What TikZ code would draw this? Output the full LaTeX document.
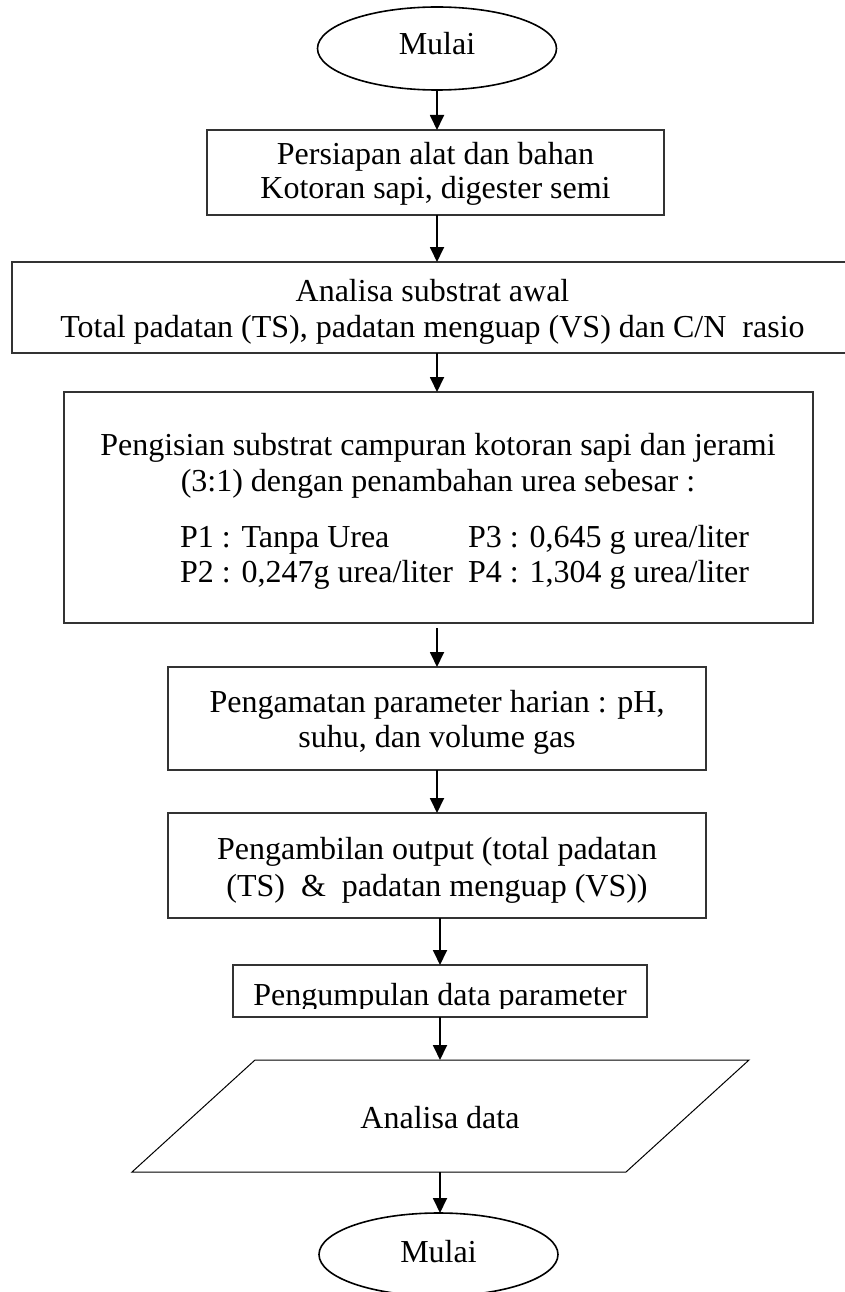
\documentclass[tikz,border=0pt]{standalone}
\usepackage{fontspec}
\setmainfont{Liberation Serif}
\usetikzlibrary{arrows.meta,shapes.geometric}
\begin{document}
\begin{tikzpicture}[x=1pt,y=1pt,
  every node/.style={font=\fontsize{32}{37}\selectfont},
  boxst/.style={draw=black!80, line width=1.1pt, inner sep=0pt, outer sep=0pt},
  term/.style={ellipse, draw, line width=1.6pt, inner sep=0pt, outer sep=0pt, minimum width=239pt, minimum height=83pt},
  txt/.style={anchor=base, inner sep=0pt},
  txtw/.style={anchor=base west, inner sep=0pt},
  arr/.style={-{Triangle[length=15pt,width=14pt]}, line width=1.8pt},
  para/.style={draw, line width=1pt, line join=miter}]
\useasboundingbox (0,0) rectangle (844,-1292);
% start
\node[term] (e1) at (437,-48.5) {};
\node[txt] (e1t) at (437,-55) {Mulai};
% box 1
\node[boxst, minimum width=457pt, minimum height=85pt] (b1) at (435.5,-172.5) {};
\node[txt] (b1a) at (435.5,-165) {Persiapan alat dan bahan};
\node[txt] (b1b) at (435.5,-199) {Kotoran sapi, digester semi};
% box 2
\node[boxst, minimum width=842pt, minimum height=91pt] (b2) at (433,-307.5) {};
\node[txt] (b2a) at (432.5,-301.5) {Analisa substrat awal};
\node[txt] (b2b) at (432.5,-337) {Total padatan (TS), padatan menguap (VS) dan C/N\ \ rasio};
% box 3
\node[boxst, minimum width=749pt, minimum height=231pt] (b3) at (438.5,-507.5) {};
\node[txt] (b3a) at (438,-455) {Pengisian substrat campuran kotoran sapi dan jerami};
\node[txt] (b3b) at (438,-491) {(3:1) dengan penambahan urea sebesar :};
\node[txtw] (p1) at (180,-547) {P1 : Tanpa Urea};
\node[txtw] (p3) at (468,-547) {P3 : 0,645 g urea/liter};
\node[txtw] (p2) at (180,-582) {P2 : 0,247g urea/liter};
\node[txtw] (p4) at (468,-582) {P4 : 1,304 g urea/liter};
% box 4
\node[boxst, minimum width=538pt, minimum height=103pt] (b4) at (437,-718.5) {};
\node[txt] (b4a) at (437,-712) {Pengamatan parameter harian : pH,};
\node[txt] (b4b) at (437,-747) {suhu, dan volume gas};
% box 5
\node[boxst, minimum width=538pt, minimum height=105pt] (b5) at (437,-865.5) {};
\node[txt] (b5a) at (437,-859) {Pengambilan output (total padatan};
\node[txt] (b5b) at (437,-896) {(TS)\ \ \&\ \ padatan menguap (VS))};
% box 6
\node[boxst, minimum width=414pt, minimum height=52pt] (b6) at (440,-991) {};
\begin{scope}
  \clip (233,-965) rectangle (647,-1008);
  \node[txt] (b6a) at (440,-1005) {Pengumpulan data parameter};
\end{scope}
% parallelogram
\coordinate (ptl) at (255,-1060);
\coordinate (ptr) at (749,-1060);
\coordinate (pbr) at (626,-1172);
\coordinate (pbl) at (132,-1172);
\coordinate (pt) at (440,-1060);
\coordinate (pb) at (440,-1172);
\draw[para] (ptl) -- (ptr) -- (pbr) -- (pbl) -- cycle;
\node[txt] (pa) at (440,-1128) {Analisa data};
% end
\node[term] (e2) at (438.5,-1254.5) {};
\node[txt] (e2t) at (438.5,-1262) {Mulai};
% arrows
\draw[arr] (e1.south) -- (e1.south |- b1.north);
\draw[arr] (b1.south -| e1.south) -- (b2.north -| e1.south);
\draw[arr] (b2.south -| e1.south) -- (b3.north -| e1.south);
\draw[arr, shorten <=5pt] (b3.south -| b4.north) -- (b4.north);
\draw[arr] (b4.south) -- (b5.north);
\draw[arr] (b5.south -| b6.north) -- (b6.north);
\draw[arr] (b6.south) -- (pt);
\draw[arr] (pb) -- (pb |- e2.north);
\end{tikzpicture}
\end{document}
